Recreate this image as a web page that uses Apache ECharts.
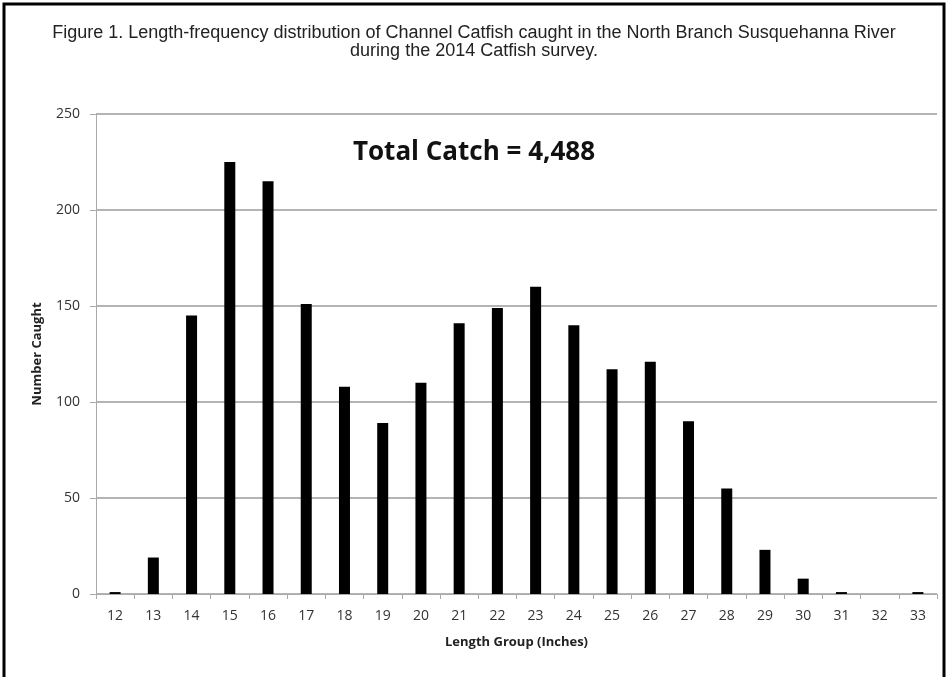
<!DOCTYPE html>
<html>
<head>
<meta charset="utf-8">
<script src="https://cdn.jsdelivr.net/npm/echarts@6/dist/echarts.min.js"></script>
<style>
  html, body { margin: 0; padding: 0; background: #fff; overflow: hidden; }
  #main { width: 948px; height: 677px; }
</style>
</head>
<body>
<div id="main"></div>
<script>
// length groups (inches) and number of channel catfish caught
var lengthGroups = ['12','13','14','15','16','17','18','19','20','21','22','23','24','25','26','27','28','29','30','31','32','33'];
var numberCaught = [1, 19, 145, 225, 215, 151, 108, 89, 110, 141, 149, 160, 140, 117, 121, 90, 55, 23, 8, 1, 0, 1];
var yTicks = [0, 50, 100, 150, 200, 250];

var titleText = 'Figure 1. Length-frequency distribution of Channel Catfish caught in the North Branch Susquehanna River\nduring the 2014 Catfish survey.';
var totalText = 'Total Catch = 4,488';

var myChart = echarts.init(document.getElementById('main'));
var option = {
    backgroundColor: '#fff',
    animation: false,
    title: [
        {
            text: titleText,
            left: 'center',
            top: 19,
            textStyle: {
                fontFamily: 'Liberation Sans',
                fontWeight: 'normal',
                fontSize: 18,
                lineHeight: 18,
                color: '#222'
            }
        },
        {
            text: totalText,
            left: 'center',
            top: 135,
            textStyle: {
                fontFamily: 'Open Sans',
                fontWeight: 'bold',
                fontSize: 26,
                color: '#111'
            }
        }
    ],
    // outer frame of the figure
    graphic: [{
        type: 'rect',
        shape: { x: 4, y: 4, width: 940, height: 720 },
        style: { fill: 'none', stroke: '#000', lineWidth: 3 },
        silent: true
    }],
    grid: {
        left: 96,
        right: 11,
        top: 114,
        bottom: 83
    },
    xAxis: {
        type: 'category',
        data: lengthGroups,
        name: 'Length Group (Inches)',
        nameLocation: 'middle',
        nameGap: 42,
        nameTextStyle: {
            fontFamily: 'Open Sans',
            fontWeight: 'bold',
            fontSize: 13,
            color: '#222'
        },
        axisLine: { lineStyle: { color: '#aaa', width: 1 } },
        axisTick: { show: true, length: 5, lineStyle: { color: '#aaa' } },
        axisLabel: {
            margin: 15,
            fontFamily: 'Open Sans',
            fontSize: 14,
            color: '#333'
        }
    },
    yAxis: {
        type: 'value',
        min: 0,
        max: 250,
        interval: 50,
        name: 'Number Caught',
        nameLocation: 'middle',
        nameGap: 52,
        nameTextStyle: {
            fontFamily: 'Open Sans',
            fontWeight: 'bold',
            fontSize: 13,
            color: '#222'
        },
        axisLine: { show: true, lineStyle: { color: '#aaa', width: 1 } },
        axisTick: { show: true, length: 6, lineStyle: { color: '#aaa' } },
        axisLabel: {
            margin: 16,
            fontFamily: 'Open Sans',
            fontSize: 14,
            color: '#333',
            formatter: function (v) { return yTicks.indexOf(v) >= 0 ? String(v) : ''; }
        },
        splitLine: { show: true, lineStyle: { color: '#b4b4b4', width: 2 } }
    },
    series: [{
        type: 'bar',
        data: numberCaught,
        barWidth: 11,
        itemStyle: { color: '#000' }
    }]
};
myChart.setOption(option);
</script>
</body>
</html>
